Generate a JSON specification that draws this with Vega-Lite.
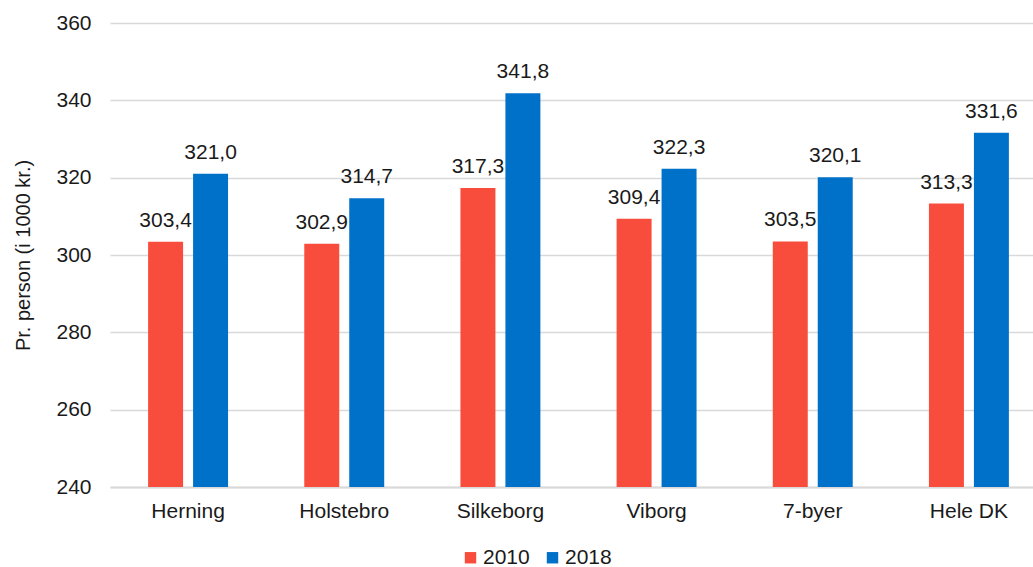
{
  "$schema": "https://vega.github.io/schema/vega-lite/v6.json",
  "autosize": {"type": "none"},
  "width": 923,
  "height": 464,
  "padding": {"left": 110, "top": 23, "right": 0, "bottom": 80},
  "background": "white",
  "config": {
    "view": {"stroke": null},
    "font": "Liberation Sans",
    "locale": {"number": {"decimal": ",", "thousands": ".", "grouping": [3], "currency": ["", " kr."]}}
  },
  "data": {
    "values": [
      {"by": "Herning", "aar": "2010", "v": 303.4},
      {"by": "Herning", "aar": "2018", "v": 321.0},
      {"by": "Holstebro", "aar": "2010", "v": 302.9},
      {"by": "Holstebro", "aar": "2018", "v": 314.7},
      {"by": "Silkeborg", "aar": "2010", "v": 317.3},
      {"by": "Silkeborg", "aar": "2018", "v": 341.8},
      {"by": "Viborg", "aar": "2010", "v": 309.4},
      {"by": "Viborg", "aar": "2018", "v": 322.3},
      {"by": "7-byer", "aar": "2010", "v": 303.5},
      {"by": "7-byer", "aar": "2018", "v": 320.1},
      {"by": "Hele DK", "aar": "2010", "v": 313.3},
      {"by": "Hele DK", "aar": "2018", "v": 331.6}
    ]
  },
  "encoding": {
    "x": {
      "field": "by", "type": "nominal", "sort": null,
      "scale": {"range": [0, 937], "paddingInner": 0.488, "paddingOuter": 0.244},
      "axis": {"title": null, "labelAngle": 0, "labelFontSize": 21, "labelColor": "#1a1a1a", "ticks": false, "labelPadding": 13, "domainColor": "#d9d9d9", "domainWidth": 2}
    },
    "xOffset": {"field": "aar", "type": "nominal", "scale": {"paddingInner": 0.222, "paddingOuter": 0}},
    "y": {
      "field": "v", "type": "quantitative",
      "scale": {"domain": [240, 360], "zero": false, "nice": false},
      "axis": {"title": "Pr. person (i 1000 kr.)", "titleFontSize": 20, "titleFontWeight": "normal", "titleColor": "#1a1a1a", "titlePadding": 22, "labelFontSize": 21, "labelColor": "#1a1a1a", "labelPadding": 19, "labelOverlap": false, "values": [240, 260, 280, 300, 320, 340, 360], "domain": false, "ticks": false, "gridColor": "#d9d9d9", "gridWidth": 1.5}
    }
  },
  "layer": [
    {
      "mark": {"type": "bar"},
      "encoding": {
        "y2": {"datum": 240},
        "color": {
          "field": "aar", "type": "nominal",
          "scale": {"domain": ["2010", "2018"], "range": ["#f84d3d", "#0071c9"]},
          "legend": {"title": null, "orient": "none", "legendX": 350, "legendY": 524, "direction": "horizontal", "symbolType": "square", "symbolSize": 130, "symbolStrokeWidth": 0, "labelFontSize": 21, "labelColor": "#1a1a1a", "columnPadding": 12, "labelOffset": 2}
        }
      }
    },
    {
      "mark": {"type": "text", "baseline": "bottom", "dy": -11, "fontSize": 21, "color": "#1a1a1a"},
      "encoding": {
        "text": {"field": "v", "type": "quantitative", "format": ".1f"}
      }
    }
  ]
}
